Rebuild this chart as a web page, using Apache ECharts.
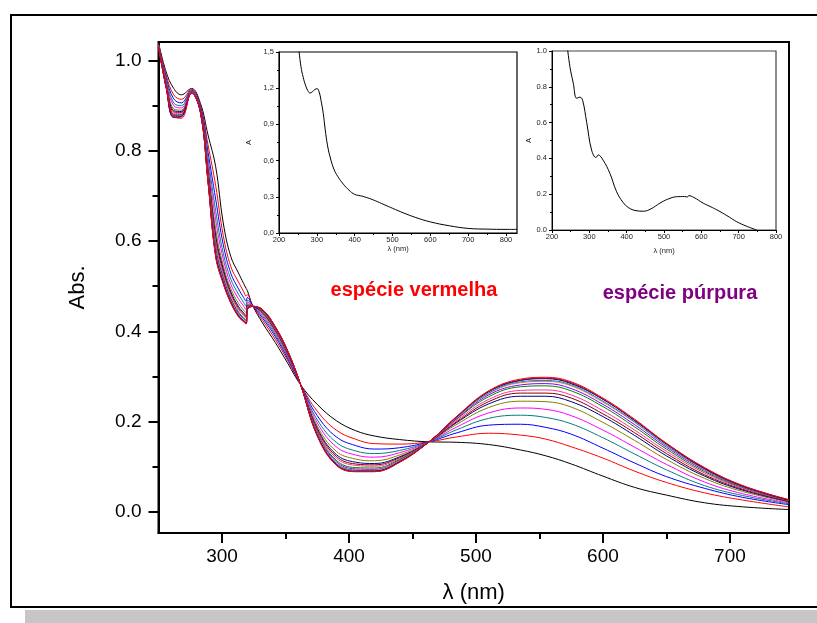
<!DOCTYPE html>
<html><head><meta charset="utf-8">
<script src="https://cdn.jsdelivr.net/npm/echarts@6/dist/echarts.min.js"></script>
<style>html,body{margin:0;padding:0;background:#fff}#c{width:817px;height:623px}</style>
</head><body><div id="c"></div>
<script>
// ---------- main titration spectra ----------
const wavelengths = [250,256,262,268,276,283,289,295,301,307,313,317,319,320,324,332,342,352,362,375,390,405,420,440,463,485,510,535,555,575,600,625,650,680,710,746];
const spectrum00 = [1.040,0.975,0.938,0.924,0.938,0.905,0.835,0.765,0.640,0.565,0.529,0.506,0.495,0.490,0.458,0.418,0.375,0.328,0.281,0.238,0.202,0.180,0.168,0.160,0.155,0.154,0.149,0.137,0.124,0.106,0.079,0.054,0.037,0.020,0.011,0.005];
const spectrum01 = [1.038,0.968,0.924,0.914,0.936,0.901,0.813,0.723,0.612,0.543,0.509,0.488,0.478,0.481,0.457,0.424,0.382,0.334,0.281,0.223,0.181,0.161,0.151,0.150,0.155,0.166,0.174,0.170,0.161,0.144,0.119,0.090,0.065,0.042,0.026,0.011];
const spectrum02 = [1.036,0.962,0.915,0.906,0.934,0.898,0.797,0.693,0.592,0.528,0.494,0.475,0.467,0.475,0.457,0.429,0.388,0.338,0.281,0.213,0.166,0.147,0.139,0.142,0.155,0.175,0.192,0.194,0.187,0.172,0.141,0.108,0.078,0.052,0.032,0.016];
const spectrum03 = [1.035,0.958,0.906,0.900,0.933,0.895,0.784,0.667,0.573,0.515,0.482,0.464,0.456,0.469,0.457,0.433,0.392,0.341,0.281,0.204,0.154,0.135,0.129,0.136,0.155,0.182,0.207,0.214,0.209,0.195,0.164,0.128,0.093,0.058,0.036,0.018];
const spectrum04 = [1.034,0.954,0.900,0.895,0.932,0.893,0.773,0.647,0.560,0.504,0.472,0.456,0.448,0.465,0.456,0.436,0.396,0.344,0.281,0.197,0.144,0.126,0.121,0.131,0.155,0.188,0.219,0.230,0.227,0.213,0.181,0.143,0.105,0.066,0.040,0.020];
const spectrum05 = [1.033,0.951,0.893,0.890,0.931,0.891,0.763,0.627,0.546,0.494,0.462,0.447,0.441,0.461,0.456,0.439,0.399,0.347,0.281,0.190,0.134,0.117,0.113,0.126,0.155,0.194,0.231,0.245,0.244,0.232,0.198,0.158,0.116,0.074,0.045,0.022];
const spectrum06 = [1.032,0.948,0.889,0.887,0.930,0.890,0.755,0.613,0.538,0.487,0.455,0.441,0.435,0.458,0.456,0.441,0.402,0.349,0.281,0.185,0.127,0.110,0.107,0.122,0.155,0.198,0.239,0.256,0.256,0.244,0.211,0.169,0.124,0.079,0.048,0.023];
const spectrum07 = [1.032,0.947,0.886,0.885,0.930,0.889,0.751,0.605,0.532,0.483,0.451,0.438,0.432,0.456,0.456,0.442,0.403,0.350,0.281,0.182,0.123,0.106,0.104,0.120,0.155,0.200,0.244,0.263,0.263,0.252,0.217,0.175,0.129,0.082,0.050,0.024];
const spectrum08 = [1.032,0.946,0.883,0.883,0.930,0.888,0.747,0.597,0.526,0.479,0.448,0.435,0.429,0.455,0.456,0.443,0.404,0.351,0.281,0.179,0.119,0.103,0.101,0.118,0.155,0.203,0.249,0.269,0.270,0.259,0.224,0.181,0.134,0.086,0.052,0.025];
const spectrum09 = [1.031,0.944,0.880,0.880,0.929,0.887,0.742,0.587,0.519,0.473,0.443,0.430,0.425,0.453,0.455,0.445,0.406,0.352,0.281,0.176,0.114,0.098,0.097,0.116,0.155,0.206,0.255,0.277,0.279,0.268,0.233,0.188,0.139,0.089,0.054,0.026];
const spectrum10 = [1.031,0.943,0.878,0.879,0.929,0.887,0.738,0.581,0.516,0.470,0.440,0.428,0.422,0.451,0.455,0.446,0.407,0.353,0.281,0.174,0.111,0.095,0.094,0.114,0.155,0.207,0.259,0.281,0.284,0.273,0.238,0.193,0.143,0.092,0.055,0.026];
const spectrum11 = [1.031,0.942,0.876,0.877,0.929,0.886,0.735,0.575,0.512,0.467,0.437,0.425,0.420,0.450,0.455,0.447,0.408,0.354,0.281,0.172,0.108,0.093,0.092,0.113,0.155,0.209,0.262,0.286,0.289,0.279,0.243,0.198,0.146,0.094,0.056,0.026];
const spectrum12 = [1.030,0.941,0.876,0.877,0.928,0.886,0.734,0.573,0.511,0.466,0.436,0.424,0.419,0.450,0.455,0.447,0.409,0.354,0.281,0.171,0.107,0.092,0.091,0.112,0.155,0.210,0.263,0.288,0.291,0.281,0.245,0.199,0.147,0.095,0.056,0.026];
const spectrum13 = [1.030,0.941,0.874,0.876,0.928,0.885,0.732,0.569,0.508,0.464,0.434,0.423,0.418,0.449,0.455,0.447,0.409,0.354,0.281,0.169,0.105,0.090,0.090,0.111,0.155,0.211,0.266,0.291,0.295,0.284,0.249,0.202,0.150,0.096,0.057,0.026];
const spectrum14 = [1.030,0.940,0.874,0.875,0.928,0.885,0.731,0.567,0.506,0.463,0.433,0.422,0.417,0.448,0.455,0.448,0.410,0.355,0.281,0.169,0.104,0.089,0.089,0.110,0.155,0.211,0.267,0.292,0.296,0.286,0.250,0.203,0.151,0.097,0.058,0.027];
const spectrum15 = [1.030,0.940,0.876,0.872,0.928,0.885,0.730,0.565,0.505,0.462,0.432,0.421,0.416,0.448,0.455,0.448,0.410,0.355,0.281,0.168,0.103,0.089,0.089,0.110,0.155,0.212,0.268,0.294,0.298,0.288,0.252,0.205,0.152,0.098,0.058,0.027];
const spectra = [spectrum00,spectrum01,spectrum02,spectrum03,spectrum04,spectrum05,spectrum06,spectrum07,spectrum08,spectrum09,spectrum10,spectrum11,spectrum12,spectrum13,spectrum14,spectrum15];
const spectrumColors = ['#000000','#ff0000','#0000ff','#008080','#ff00ff','#808000','#000080','#800000','#ff3399','#008000','#8000ff','#ff8000','#0080ff','#000000','#800080','#ff0000'];

// ---------- inset 1 (espécie vermelha) ----------
const inset1Wavelengths = [251,258,264,270,276,282,288,295,301,306,311,317,322,328,335,345,355,370,385,400,420,440,460,480,500,530,560,600,650,700,750,800,829];
const inset1Abs = [1.56,1.38,1.29,1.225,1.18,1.16,1.17,1.19,1.196,1.17,1.10,0.99,0.86,0.73,0.63,0.53,0.47,0.405,0.355,0.32,0.305,0.285,0.26,0.232,0.205,0.165,0.13,0.092,0.06,0.038,0.032,0.03,0.03];

// ---------- inset 2 (espécie púrpura) ----------
const inset2Wavelengths = [240,248,257,266,275,282,293,306,318,324,337,355,373,390,405,425,445,465,489,510,534,555,563,566,580,605,630,650,675,695,720,748];
const inset2Abs = [1.04,0.912,0.82,0.736,0.742,0.725,0.60,0.447,0.405,0.419,0.39,0.317,0.214,0.155,0.125,0.108,0.105,0.118,0.15,0.172,0.186,0.187,0.184,0.192,0.182,0.150,0.125,0.103,0.072,0.046,0.022,0.0];

// ---------- ticks ----------
const mainXTicks = [300,400,500,600,700];
const mainXMinor = [350,450,550,650];
const mainYTicks = [0,0.2,0.4,0.6,0.8,1.0];
const mainYMinor = [0.1,0.3,0.5,0.7,0.9];
const insetXTicks = [200,300,400,500,600,700,800];
const insetXMinor = [250,350,450,550,650,750];
const inset1YTicks = [0,0.3,0.6,0.9,1.2,1.5];
const inset1YMinor = [0.15,0.45,0.75,1.05,1.35];
const inset2YTicks = [0,0.2,0.4,0.6,0.8,1.0];
const inset2YMinor = [0.1,0.3,0.5,0.7,0.9];

const FONT = 'Liberation Sans, Arial, sans-serif';
const chart = echarts.init(document.getElementById('c'), null, {renderer:'canvas'});

function majorAxis(o){
  return Object.assign({type:'value', splitLine:{show:false}, axisLine:{show:true,onZero:false,lineStyle:{color:'#000',width:2}}}, o);
}
function minorAxis(o){
  return Object.assign({type:'value', splitLine:{show:false}, axisLine:{show:false,onZero:false}, axisLabel:{show:false}}, o);
}
const xAxes = [
  majorAxis({gridIndex:0,position:'bottom',min:250,max:746.5,
    axisTick:{customValues:mainXTicks,length:10,lineStyle:{color:'#000',width:2}},
    axisLabel:{customValues:mainXTicks,fontSize:19,color:'#000',margin:14,fontFamily:FONT},
    name:'λ (nm)',nameLocation:'middle',nameGap:49,nameTextStyle:{fontSize:22,color:'#000',fontFamily:FONT}}),
  minorAxis({gridIndex:0,position:'bottom',min:250,max:746.5,
    axisTick:{customValues:mainXMinor,length:6,lineStyle:{color:'#000',width:2}}}),
  majorAxis({gridIndex:1,position:'bottom',min:200,max:829,axisLine:{show:true,onZero:false,lineStyle:{color:'#000',width:1}},
    axisTick:{customValues:insetXTicks,length:3,lineStyle:{color:'#000',width:1}},
    axisLabel:{customValues:insetXTicks,fontSize:7.5,color:'#222',margin:3,fontFamily:FONT},
    name:'λ (nm)',nameLocation:'middle',nameGap:9,nameTextStyle:{fontSize:7.5,color:'#222',fontFamily:FONT}}),
  minorAxis({gridIndex:1,position:'bottom',min:200,max:829,
    axisTick:{customValues:insetXMinor,length:2,lineStyle:{color:'#000',width:1}}}),
  majorAxis({gridIndex:2,position:'bottom',min:200,max:800,axisLine:{show:true,onZero:false,lineStyle:{color:'#000',width:1}},
    axisTick:{customValues:insetXTicks,length:3,lineStyle:{color:'#000',width:1}},
    axisLabel:{customValues:insetXTicks,fontSize:7.5,color:'#222',margin:3,fontFamily:FONT},
    name:'λ (nm)',nameLocation:'middle',nameGap:17,nameTextStyle:{fontSize:7.5,color:'#222',fontFamily:FONT}}),
  minorAxis({gridIndex:2,position:'bottom',min:200,max:800,
    axisTick:{customValues:insetXMinor,length:2,lineStyle:{color:'#000',width:1}}})
];
const yAxes = [
  majorAxis({gridIndex:0,position:'left',min:-0.047,max:1.041,
    axisTick:{customValues:mainYTicks,length:10,lineStyle:{color:'#000',width:2}},
    axisLabel:{customValues:mainYTicks,fontSize:19,color:'#000',margin:17,fontFamily:FONT,formatter:v=>v.toFixed(1)},
    name:'Abs.',nameLocation:'middle',nameGap:70,nameTextStyle:{fontSize:22,color:'#000',fontFamily:FONT}}),
  minorAxis({gridIndex:0,position:'left',min:-0.047,max:1.041,
    axisTick:{customValues:mainYMinor,length:6,lineStyle:{color:'#000',width:2}}}),
  majorAxis({gridIndex:1,position:'left',min:0,max:1.5,axisLine:{show:true,onZero:false,lineStyle:{color:'#000',width:1}},
    axisTick:{customValues:inset1YTicks,length:3,lineStyle:{color:'#000',width:1}},
    axisLabel:{customValues:inset1YTicks,fontSize:7.5,color:'#222',margin:5,fontFamily:FONT,formatter:v=>v.toFixed(1).replace('.',',')},
    name:'A',nameLocation:'middle',nameGap:26,nameTextStyle:{fontSize:7.5,color:'#222',fontFamily:FONT}}),
  minorAxis({gridIndex:1,position:'left',min:0,max:1.5,
    axisTick:{customValues:inset1YMinor,length:2,lineStyle:{color:'#000',width:1}}}),
  majorAxis({gridIndex:2,position:'left',min:0,max:1.0,axisLine:{show:true,onZero:false,lineStyle:{color:'#000',width:1}},
    axisTick:{customValues:inset2YTicks,length:3,lineStyle:{color:'#000',width:1}},
    axisLabel:{customValues:inset2YTicks,fontSize:7.5,color:'#222',margin:5,fontFamily:FONT,formatter:v=>v.toFixed(1)},
    name:'A',nameLocation:'middle',nameGap:18,nameTextStyle:{fontSize:7.5,color:'#222',fontFamily:FONT}}),
  minorAxis({gridIndex:2,position:'left',min:0,max:1.0,
    axisTick:{customValues:inset2YMinor,length:2,lineStyle:{color:'#000',width:1}}})
];

const series = spectra.map((arr,k)=>({
  type:'line', xAxisIndex:0, yAxisIndex:0, showSymbol:false, symbol:'none',
  smooth:0.4, clip:true,
  lineStyle:{color:spectrumColors[k], width:1},
  data: wavelengths.map((w,i)=>[w,arr[i]])
}));
series.push({type:'line',xAxisIndex:2,yAxisIndex:2,symbol:'none',smooth:0.4,clip:true,
  lineStyle:{color:'#000',width:1},data:inset1Wavelengths.map((w,i)=>[w,inset1Abs[i]])});
series.push({type:'line',xAxisIndex:4,yAxisIndex:4,symbol:'none',smooth:0.4,clip:true,
  lineStyle:{color:'#000',width:1},data:inset2Wavelengths.map((w,i)=>[w,inset2Abs[i]])});

chart.setOption({
  animation:false,
  backgroundColor:'#ffffff',
  grid:[
    {left:158.5,top:42,width:630.5,height:491,show:true,borderColor:'#000',borderWidth:2,backgroundColor:'transparent'},
    {left:279,top:52,width:238,height:181,show:true,borderColor:'#000',borderWidth:1.2,backgroundColor:'#fff'},
    {left:552,top:51,width:224,height:179,show:true,borderColor:'#444',borderWidth:1.2,backgroundColor:'#fff'}
  ],
  xAxis:xAxes,
  yAxis:yAxes,
  series:series,
  graphic:[
    {type:'rect',z:-10,shape:{x:11,y:15,width:830,height:592},style:{fill:'none',stroke:'#000',lineWidth:2}},
    {type:'rect',z:-10,shape:{x:25,y:610,width:800,height:13},style:{fill:'#c6c6c6'}},
    {type:'text',x:414,y:290,style:{text:'espécie vermelha',fill:'#ff0000',font:'bold 20px Liberation Sans, Arial, sans-serif',align:'center',verticalAlign:'middle'}},
    {type:'text',x:680,y:293,style:{text:'espécie púrpura',fill:'#800080',font:'bold 20px Liberation Sans, Arial, sans-serif',align:'center',verticalAlign:'middle'}}
  ]
});
</script></body></html>
